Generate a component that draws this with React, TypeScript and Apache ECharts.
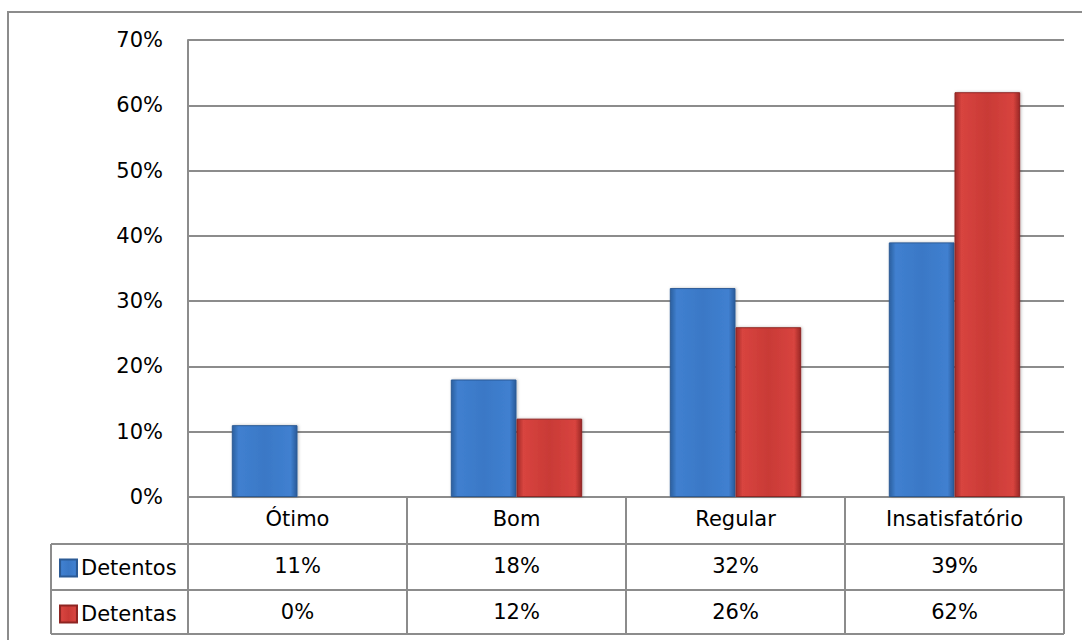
import React, { useEffect, useRef } from "react";
import * as echarts from "echarts";

const categories = ["Ótimo", "Bom", "Regular", "Insatisfatório"];
const seriesNames = ["Detentos", "Detentas"];
const detentos = [11, 18, 32, 39];
const detentas = [0, 12, 26, 62];
const yTicks = [0, 10, 20, 30, 40, 50, 60, 70];

const FONT = "DejaVu Sans";
const GRID_LINE = "#8c8c8c";

const pct = (v: number) => `${v}%`;

function hGrad(c: string[]) {
  return new echarts.graphic.LinearGradient(1, 0, 0, 0, [
    { offset: 0, color: c[0] },
    { offset: 0.1, color: c[1] },
    { offset: 0.5, color: c[2] },
    { offset: 0.9, color: c[1] },
    { offset: 1, color: c[3] },
  ]);
}

export default function App() {
  const ref = useRef<HTMLDivElement>(null);
  useEffect(() => {
    if (!ref.current) return;
    const chart = echarts.init(ref.current, undefined, { renderer: "svg" });
    const W = 1082;
    const H = 640;
    const gridLeft = 188;
    const gridRight = 1064;
    const gridTop = 40;
    const gridBottom = 497;
    const row1 = 544;
    const row2 = 590;
    const tableBottom = 634;
    const legendLeft = 51;

    const labelStyle = { fontFamily: FONT, fontSize: 21, color: "#000" };

    const blue = ["#2a5a9a", "#4080d0", "#3a78c6", "#2c609f"];
    const red = ["#9a2724", "#d8443f", "#c93a36", "#a22c29"];

    const option: any = {
      animation: false,
      backgroundColor: "#fff",
      grid: {
        left: gridLeft,
        right: W - gridRight,
        top: gridTop,
        bottom: H - gridBottom,
        containLabel: false,
      },
      legend: {
        orient: "vertical",
        left: legendLeft + 3,
        top: row1 + 7,
        itemWidth: 17,
        itemHeight: 17,
        itemGap: 22,
        icon: "rect",
        textStyle: { ...labelStyle, lineHeight: 24, padding: [0, 0, 0, -1] },
        data: seriesNames,
      },
      xAxis: [
        {
          type: "category",
          data: categories,
          position: "bottom",
          axisLine: { show: true, lineStyle: { color: GRID_LINE, width: 2 } },
          axisTick: {
            show: true,
            length: tableBottom - gridBottom,
            lineStyle: { color: GRID_LINE, width: 2 },
          },
          axisLabel: { ...labelStyle, margin: 11 },
        },
        {
          type: "category",
          data: detentos.map(pct),
          position: "bottom",
          offset: row1 - gridBottom,
          axisLine: { show: false },
          axisTick: { show: false },
          axisLabel: { ...labelStyle, margin: 11 },
        },
        {
          type: "category",
          data: detentas.map(pct),
          position: "bottom",
          offset: row2 - gridBottom,
          axisLine: { show: false },
          axisTick: { show: false },
          axisLabel: { ...labelStyle, margin: 11 },
        },
      ],
      yAxis: {
        type: "value",
        min: yTicks[0],
        max: yTicks[yTicks.length - 1],
        interval: 10,
        axisLine: { show: true, lineStyle: { color: GRID_LINE, width: 2 } },
        axisTick: { show: false },
        axisLabel: { ...labelStyle, margin: 25, formatter: (v: number) => pct(v) },
        splitLine: { show: true, lineStyle: { color: GRID_LINE, width: 2 } },
      },
      series: [
        {
          name: seriesNames[0],
          type: "bar",
          xAxisIndex: 0,
          data: detentos,
          barGap: "0%",
          barCategoryGap: "40%",
          itemStyle: {
            color: hGrad(blue),
            borderColor: "#2b5a95",
            borderWidth: 1,
            shadowColor: "rgba(0,0,0,0.25)",
            shadowBlur: 3,
            shadowOffsetX: 1,
          },
        },
        {
          name: seriesNames[1],
          type: "bar",
          xAxisIndex: 0,
          data: detentas,
          barGap: "0%",
          barCategoryGap: "40%",
          itemStyle: {
            color: hGrad(red),
            borderColor: "#8e2522",
            borderWidth: 1,
            shadowColor: "rgba(0,0,0,0.25)",
            shadowBlur: 3,
            shadowOffsetX: 1,
          },
        },
      ],
      graphic: [
        {
          type: "rect",
          shape: { x: 8, y: 12, width: 1100, height: 700 },
          style: { fill: "none", stroke: GRID_LINE, lineWidth: 2 },
          silent: true,
        },
        {
          type: "line",
          shape: { x1: legendLeft, y1: row1, x2: gridRight, y2: row1 },
          style: { stroke: GRID_LINE, lineWidth: 2 },
        },
        {
          type: "line",
          shape: { x1: legendLeft, y1: row2, x2: gridRight, y2: row2 },
          style: { stroke: GRID_LINE, lineWidth: 2 },
        },
        {
          type: "line",
          shape: { x1: legendLeft, y1: tableBottom, x2: gridRight, y2: tableBottom },
          style: { stroke: GRID_LINE, lineWidth: 2 },
        },
        {
          type: "line",
          shape: { x1: legendLeft, y1: row1, x2: legendLeft, y2: tableBottom },
          style: { stroke: GRID_LINE, lineWidth: 2 },
        },
      ],
    };
    chart.setOption(option);
    return () => chart.dispose();
  }, []);
  return (
    <div
      ref={ref}
      style={{ position: "fixed", left: 0, top: 0, width: 1082, height: 640 }}
    />
  );
}
